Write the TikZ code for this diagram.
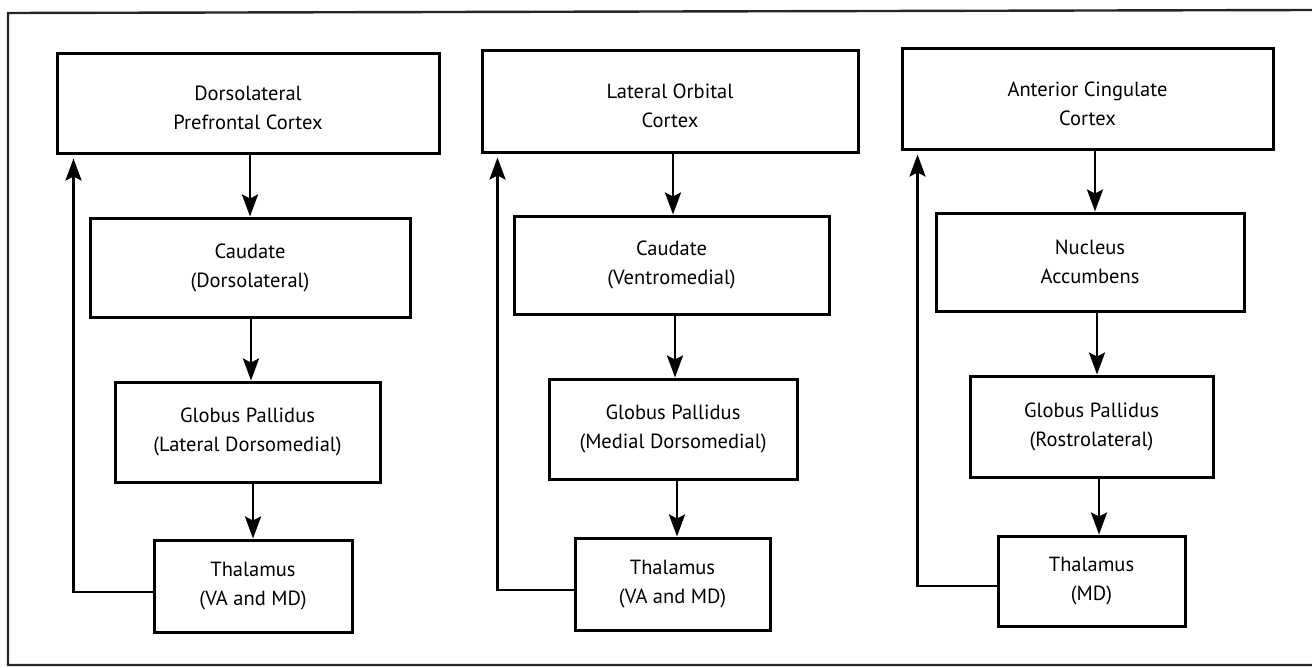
\documentclass[tikz,border=0pt]{standalone}
\usepackage{fontspec}
\setmainfont{PT Sans}
\usetikzlibrary{arrows.meta,calc}
\begin{document}
\begin{tikzpicture}[x=1pt,y=-1pt,
  box/.style={draw=black, line width=3pt, inner sep=0pt, align=center,
    font=\fontsize{20.5}{29}\selectfont, text=black},
  topbox/.style={box, text depth=0pt},
  arr/.style={draw=black, line width=2.8pt,
    -{Stealth[length=22pt,width=16pt,inset=4pt]}}]
\useasboundingbox (0,0) rectangle (1312,667);
\draw[line width=2.4pt, black!85] (1312,10) -- (8,13) -- (8,665) -- (1312,665);

% column 1
\node[box, minimum width=382pt, minimum height=100pt] (A1) at (248,103) {\rule{0pt}{25pt}Dorsolateral\\Prefrontal Cortex};
\node[box, minimum width=320pt, minimum height=99pt] (A2) at (250,267.5) {Caudate\\(Dorsolateral)};
\node[box, minimum width=265pt, minimum height=100pt] (A3) at (247.5,432) {Globus Pallidus\\(Lateral Dorsomedial)};
\node[box, minimum width=198pt, minimum height=92pt] (A4) at (253,586) {Thalamus\\(VA and MD)};

% column 2
\node[box, minimum width=376pt, minimum height=102pt] (B1) at (670,101) {\rule{0pt}{25pt}Lateral Orbital\\Cortex};
\node[box, minimum width=315pt, minimum height=98pt] (B2) at (671.5,265) {Caudate\\(Ventromedial)};
\node[box, minimum width=248pt, minimum height=100pt] (B3) at (673,429) {Globus Pallidus\\(Medial Dorsomedial)};
\node[box, minimum width=195pt, minimum height=92pt] (B4) at (672.5,584) {Thalamus\\(VA and MD)};

% column 3
\node[box, minimum width=371pt, minimum height=101pt] (C1) at (1087.5,98.5) {\rule{0pt}{25pt}Anterior Cingulate\\Cortex};
\node[box, minimum width=308pt, minimum height=98pt] (C2) at (1090,262) {Nucleus\\Accumbens};
\node[box, minimum width=243pt, minimum height=101pt] (C3) at (1091.5,426.5) {Globus Pallidus\\(Rostrolateral)};
\node[box, minimum width=187pt, minimum height=90pt] (C4) at (1091.5,581) {Thalamus\\(MD)};

% downward arrows
\draw[arr] (A2.north |- A1.south) -- (A2.north);
\draw[arr] ([xshift=1pt]A2.south) -- ([xshift=1pt]A2.south |- A3.north);
\draw[arr] (A4.north |- A3.south) -- (A4.north);

\draw[arr] ([xshift=1.5pt]B2.north |- B1.south) -- ([xshift=1.5pt]B2.north);
\draw[arr] ([xshift=3.5pt]B2.south) -- ([xshift=3.5pt]B2.south |- B3.north);
\draw[arr] ([xshift=4.5pt]B4.north |- B3.south) -- ([xshift=4.5pt]B4.north);

\draw[arr] ([xshift=5pt]C2.north |- C1.south) -- ([xshift=5pt]C2.north);
\draw[arr] ([xshift=7pt]C2.south) -- ([xshift=7pt]C2.south |- C3.north);
\draw[arr] ([xshift=7.5pt]C4.north |- C3.south) -- ([xshift=7.5pt]C4.north);

% feedback arrows
\draw[arr, shorten >=4pt] ([yshift=-6pt]A4.west) -| ([xshift=18pt]A1.south west);
\draw[arr, shorten >=4pt] ([yshift=-6pt]B4.west) -| ([xshift=17pt]B1.south west);
\draw[arr, shorten >=4pt] ([yshift=-5pt]C4.west) -| ([xshift=17pt]C1.south west);
\end{tikzpicture}
\end{document}
